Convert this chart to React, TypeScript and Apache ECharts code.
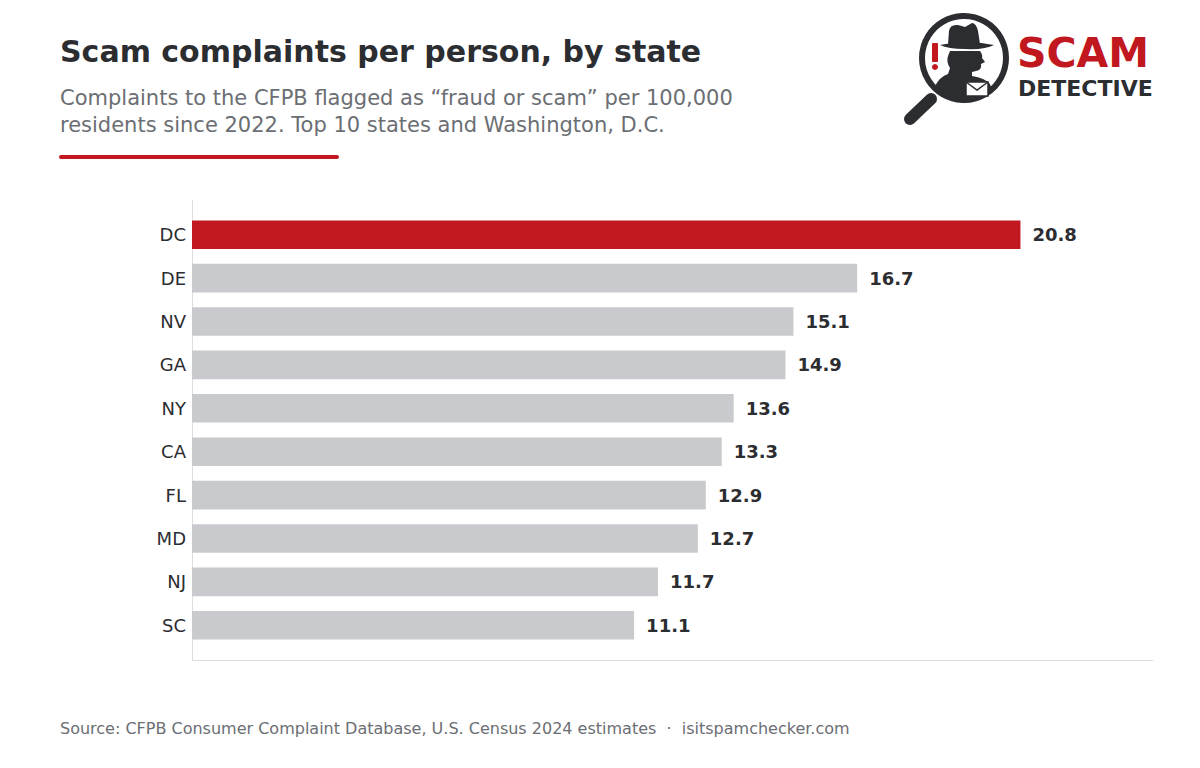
import React, { useEffect, useRef } from "react";
import * as echarts from "echarts";

const states = ["DC", "DE", "NV", "GA", "NY", "CA", "FL", "MD", "NJ", "SC"];
const complaintsPer100k = [20.8, 16.7, 15.1, 14.9, 13.6, 13.3, 12.9, 12.7, 11.7, 11.1];
const highlightState = "DC";

const DARK = "#2b2d31";
const GREY_TEXT = "#6b6e73";
const RED = "#c1171f";
const BAR_GREY = "#c8cacd";
const FONT = "'DejaVu Sans', sans-serif";

// detective silhouette inside the magnifier
const detectivePath =
  "M948,44 L949,31 Q950,24 958,25 L965,27 L972,23 Q976,23 978,31 L980,44 Z " +
  "M940,45 Q965,39 994,45 Q985,50 965,49 Q948,49 940,45 Z " +
  "M950,51 L980,51 Q983,55 982,58 L985,62 L981,64 Q982,70 976,71 L972,72 L972,76 Q985,78 990,84 L992,90 Q980,101 964,101 Q948,101 934,88 Q940,76 948,74 L950,68 Q946,62 948,56 Z";

echarts.graphic.registerShape("detective", echarts.graphic.extendPath(detectivePath, {}));

export default function App() {
  const ref = useRef<HTMLDivElement>(null);

  useEffect(() => {
    if (!ref.current) return;
    const chart = echarts.init(ref.current, null, { renderer: "svg" });
    const maxVal = Math.max(...complaintsPer100k);

    chart.setOption({
      animation: false,
      backgroundColor: "#ffffff",
      textStyle: { fontFamily: FONT },
      grid: { left: 192, right: 47, top: 213, bottom: 121, containLabel: false },
      xAxis: {
        type: "value",
        min: 0,
        max: maxVal * 1.16,
        offset: 13,
        axisLine: { show: true, lineStyle: { color: "#dcdde0", width: 1 } },
        axisTick: { show: false },
        axisLabel: { show: false },
        splitLine: { show: false },
      },
      yAxis: {
        type: "category",
        data: states,
        inverse: true,
        axisLine: { show: false },
        axisTick: { show: false },
        axisLabel: { color: DARK, fontSize: 18, margin: 6, fontFamily: FONT },
      },
      series: [
        {
          type: "bar",
          barCategoryGap: "34%",
          data: complaintsPer100k.map((v, i) => ({
            value: v,
            itemStyle: { color: states[i] === highlightState ? RED : BAR_GREY },
          })),
          label: {
            show: true,
            position: "right",
            distance: 12,
            color: DARK,
            fontWeight: "bold",
            fontSize: 18,
            fontFamily: FONT,
            formatter: (p: any) => p.value.toFixed(1),
          },
        },
      ],
      graphic: [
        {
          type: "text",
          left: 60,
          top: 36,
          style: { text: "Scam complaints per person, by state", fill: DARK, font: `bold 30px ${FONT}` },
        },
        {
          type: "text",
          left: 60,
          top: 84,
          style: {
            text: "Complaints to the CFPB flagged as \u201cfraud or scam\u201d per 100,000\nresidents since 2022. Top 10 states and Washington, D.C.",
            fill: GREY_TEXT,
            font: `21px ${FONT}`,
            lineHeight: 27,
          },
        },
        {
          type: "line",
          shape: { x1: 61, y1: 157, x2: 337, y2: 157 },
          style: { stroke: RED, lineWidth: 4, lineCap: "round" },
        },
        {
          type: "line",
          shape: { x1: 192.5, y1: 200, x2: 192.5, y2: 660 },
          style: { stroke: "#dcdde0", lineWidth: 1 },
        },
        {
          type: "text",
          left: 60,
          top: 720,
          style: {
            text: "Source: CFPB Consumer Complaint Database, U.S. Census 2024 estimates  \u00b7  isitspamchecker.com",
            fill: GREY_TEXT,
            font: `16px ${FONT}`,
          },
        },
        // logo: magnifier with detective, then the wordmark
        { type: "circle", shape: { cx: 964, cy: 58, r: 42 }, style: { fill: "none", stroke: DARK, lineWidth: 6 } },
        { type: "line", shape: { x1: 931, y1: 99, x2: 910, y2: 119 }, style: { stroke: DARK, lineWidth: 12, lineCap: "round" } },
        { type: "detective", x: 0, y: 0, style: { fill: DARK } },
        { type: "rect", shape: { x: 932, y: 43, width: 6, height: 19, r: 1 }, style: { fill: RED } },
        { type: "circle", shape: { cx: 935, cy: 67, r: 3 }, style: { fill: RED } },
        { type: "rect", shape: { x: 966, y: 82, width: 22, height: 14 }, style: { fill: "#ffffff", stroke: DARK, lineWidth: 1.5 } },
        { type: "polyline", shape: { points: [[966, 82], [977, 90], [988, 82]] }, style: { fill: "none", stroke: DARK, lineWidth: 1.5 } },
        {
          type: "text",
          left: 1017,
          top: 32,
          style: { text: "SCAM", fill: RED, font: `bold 41px ${FONT}`, lineHeight: 38 },
        },
        {
          type: "text",
          left: 1018,
          top: 77,
          style: { text: "DETECTIVE", fill: DARK, font: `bold 22px ${FONT}`, lineHeight: 22 },
        },
      ],
    });

    return () => chart.dispose();
  }, []);

  return <div ref={ref} style={{ width: 1200, height: 768, position: "absolute", left: 0, top: 0 }} />;
}
